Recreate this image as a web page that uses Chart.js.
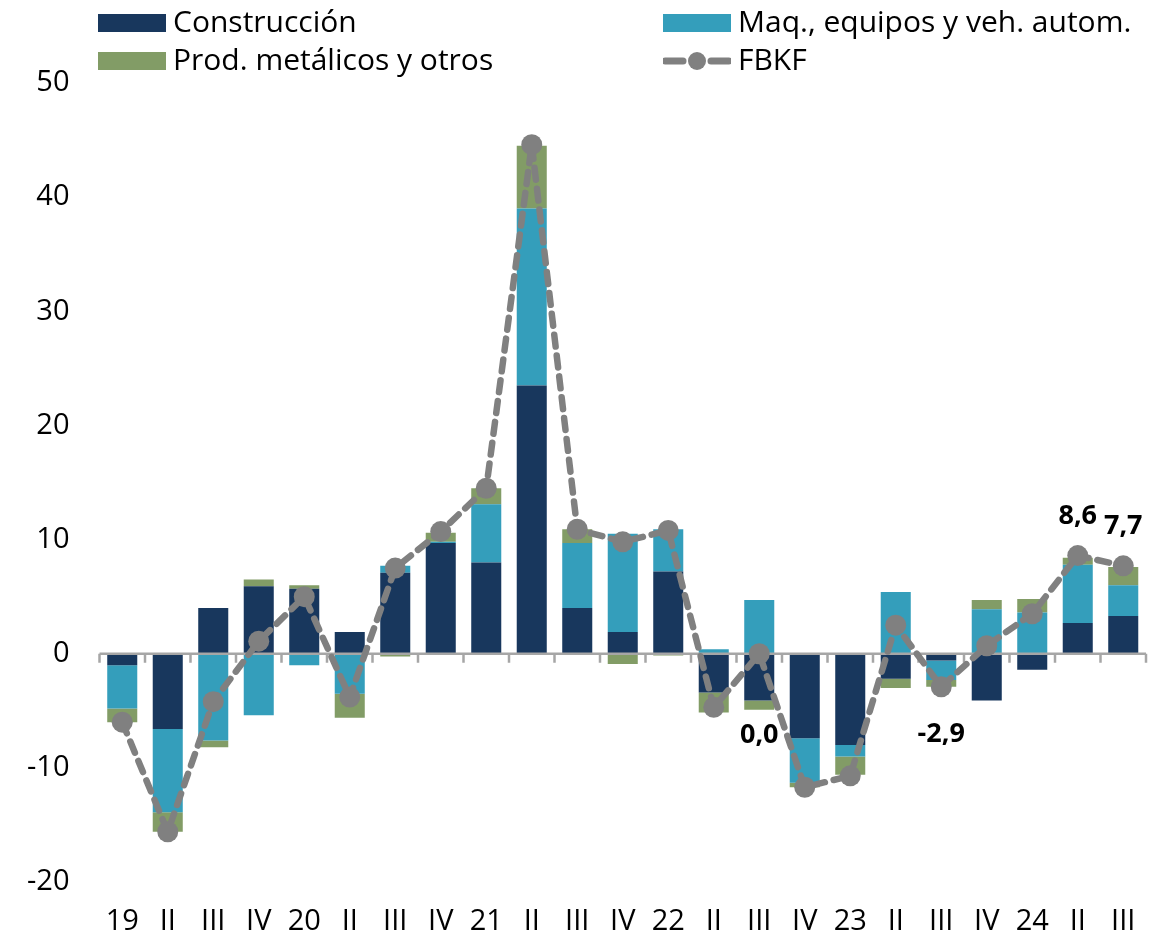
<!DOCTYPE html>
<html>
<head>
<meta charset="utf-8">
<script src="https://cdn.jsdelivr.net/npm/chart.js@4.4.1/dist/chart.umd.min.js"></script>
<style>
  html, body { margin: 0; padding: 0; background: #fff; }
  #wrap { position: relative; width: 1167px; height: 933px; }
  #chart { position: absolute; left: 0; top: 0; }
  .legend-item {
    position: absolute;
    font-family: 'Open Sans', sans-serif;
    font-size: 30px;
    color: #000;
    display: flex;
    align-items: center;
    white-space: nowrap;
  }
  .swatch { width: 68px; height: 18px; margin-right: 7px; position: relative; top: 2px; }
</style>
</head>
<body>
<div id="wrap">
  <canvas id="chart" width="1167" height="933"></canvas>
  <div class="legend-item" style="left:98px; top:0px;"><span class="swatch" style="background:#18375d"></span>Construcción</div>
  <div class="legend-item" style="left:663px; top:0px;"><span class="swatch" style="background:#349ebb"></span>Maq., equipos y veh. autom.</div>
  <div class="legend-item" style="left:98px; top:38px;"><span class="swatch" style="background:#829c66"></span>Prod. metálicos y otros</div>
  <div class="legend-item" style="left:663px; top:38px;">
    <svg width="68" height="24" style="margin-right:7px; position:relative; top:2px">
      <line x1="2" y1="12" x2="20" y2="12" stroke="#808080" stroke-width="7" stroke-linecap="round"/>
      <circle cx="34" cy="12" r="9" fill="#808080"/>
      <line x1="48" y1="12" x2="66" y2="12" stroke="#808080" stroke-width="7" stroke-linecap="round"/>
    </svg>FBKF</div>
</div>
<script>
const periods = ['19', 'II', 'III', 'IV', '20', 'II', 'III', 'IV', '21', 'II', 'III', 'IV',
  '22', 'II', 'III', 'IV', '23', 'II', 'III', 'IV', '24', 'II', 'III'];

const construccion = [-1.0, -6.6, 4.0, 5.9, 5.7, 1.9, 7.1, 9.7, 8.0, 23.5, 4.0, 1.9,
  7.2, -3.4, -4.1, -7.4, -8.0, -2.2, -0.6, -4.1, -1.4, 2.7, 3.3];
const maquinaria = [-3.8, -7.3, -7.6, -5.4, -1.0, -3.5, 0.6, 0.1, 5.1, 15.5, 5.7, 8.6,
  3.7, 0.4, 4.7, -3.9, -1.0, 5.4, -1.7, 3.9, 3.6, 5.1, 2.7];
const prodMetalicos = [-1.2, -1.7, -0.6, 0.6, 0.3, -2.1, -0.25, 0.8, 1.4, 5.5, 1.2, -0.9,
  -0.15, -1.75, -0.8, -0.4, -1.6, -0.8, -0.6, 0.8, 1.2, 0.6, 1.6];
const fbkf = [-6.0, -15.6, -4.2, 1.1, 5.0, -3.8, 7.5, 10.7, 14.5, 44.6, 10.9, 9.8,
  10.8, -4.7, 0.0, -11.7, -10.7, 2.5, -2.9, 0.7, 3.5, 8.6, 7.7];

// only some points carry a value label: index -> vertical offset from the point
const labelOffsets = { 14: 82, 18: 47, 21: -39, 22: -40 };

const fontFamily = "'Open Sans', sans-serif";

// zero line with small tick marks between categories, drawn under the FBKF line
const zeroAxis = {
  id: 'zeroAxis',
  beforeDatasetDraw(chart, args) {
    if (args.meta.type !== 'line') return;
    const { ctx, chartArea, scales } = chart;
    const y0 = scales.y.getPixelForValue(0);
    const n = periods.length;
    const step = (chartArea.right - chartArea.left) / n;
    ctx.save();
    ctx.strokeStyle = '#a6a6a6';
    ctx.lineWidth = 2.5;
    ctx.beginPath();
    ctx.moveTo(chartArea.left, y0);
    ctx.lineTo(chartArea.right, y0);
    for (let i = 0; i <= n; i++) {
      const x = chartArea.left + i * step;
      ctx.moveTo(x, y0);
      ctx.lineTo(x, y0 + 9);
    }
    ctx.stroke();
    ctx.restore();
  }
};

const valueLabels = {
  id: 'valueLabels',
  afterDatasetsDraw(chart) {
    const idx = chart.data.datasets.findIndex(d => d.type === 'line');
    const meta = chart.getDatasetMeta(idx);
    const { ctx } = chart;
    ctx.save();
    ctx.font = 'bold 27px ' + fontFamily;
    ctx.fillStyle = '#000';
    ctx.textAlign = 'center';
    ctx.textBaseline = 'middle';
    Object.keys(labelOffsets).forEach(k => {
      const pt = meta.data[k];
      const txt = fbkf[k].toFixed(1).replace('.', ',');
      ctx.fillText(txt, pt.x, pt.y + labelOffsets[k]);
    });
    ctx.restore();
  }
};

new Chart(document.getElementById('chart'), {
  data: {
    labels: periods,
    datasets: [
      {
        type: 'line',
        label: 'FBKF',
        data: fbkf,
        order: 0,
        borderColor: '#808080',
        borderWidth: 6.5,
        borderDash: [12, 9],
        borderCapStyle: 'round',
        tension: 0,
        pointRadius: 10.5,
        pointBackgroundColor: '#808080',
        pointBorderWidth: 0,
        fill: false
      },
      { type: 'bar', label: 'Construcción', data: construccion, backgroundColor: '#18375d', order: 1 },
      { type: 'bar', label: 'Maq., equipos y veh. autom.', data: maquinaria, backgroundColor: '#349ebb', order: 1 },
      { type: 'bar', label: 'Prod. metálicos y otros', data: prodMetalicos, backgroundColor: '#829c66', order: 1 }
    ]
  },
  options: {
    responsive: false,
    animation: false,
    datasets: {
      bar: { categoryPercentage: 1, barPercentage: 0.66 }
    },
    layout: { padding: { top: 83, right: 21, bottom: 0, left: 0 } },
    scales: {
      x: {
        stacked: true,
        grid: { display: false, drawTicks: false },
        border: { display: false },
        ticks: {
          color: '#000',
          font: { family: fontFamily, size: 29 },
          padding: 22,
          maxRotation: 0,
          autoSkip: false
        },
        afterFit(scale) { scale.height = 51; }
      },
      y: {
        stacked: true,
        min: -20,
        max: 50,
        grid: { display: false, drawTicks: false },
        border: { display: false },
        ticks: {
          stepSize: 10,
          color: '#000',
          font: { family: fontFamily, size: 29 },
          padding: 30
        },
        afterFit(scale) { scale.width = 99.5; }
      }
    },
    plugins: {
      legend: { display: false },
      tooltip: { enabled: false }
    }
  },
  plugins: [zeroAxis, valueLabels]
});
</script>
</body>
</html>
